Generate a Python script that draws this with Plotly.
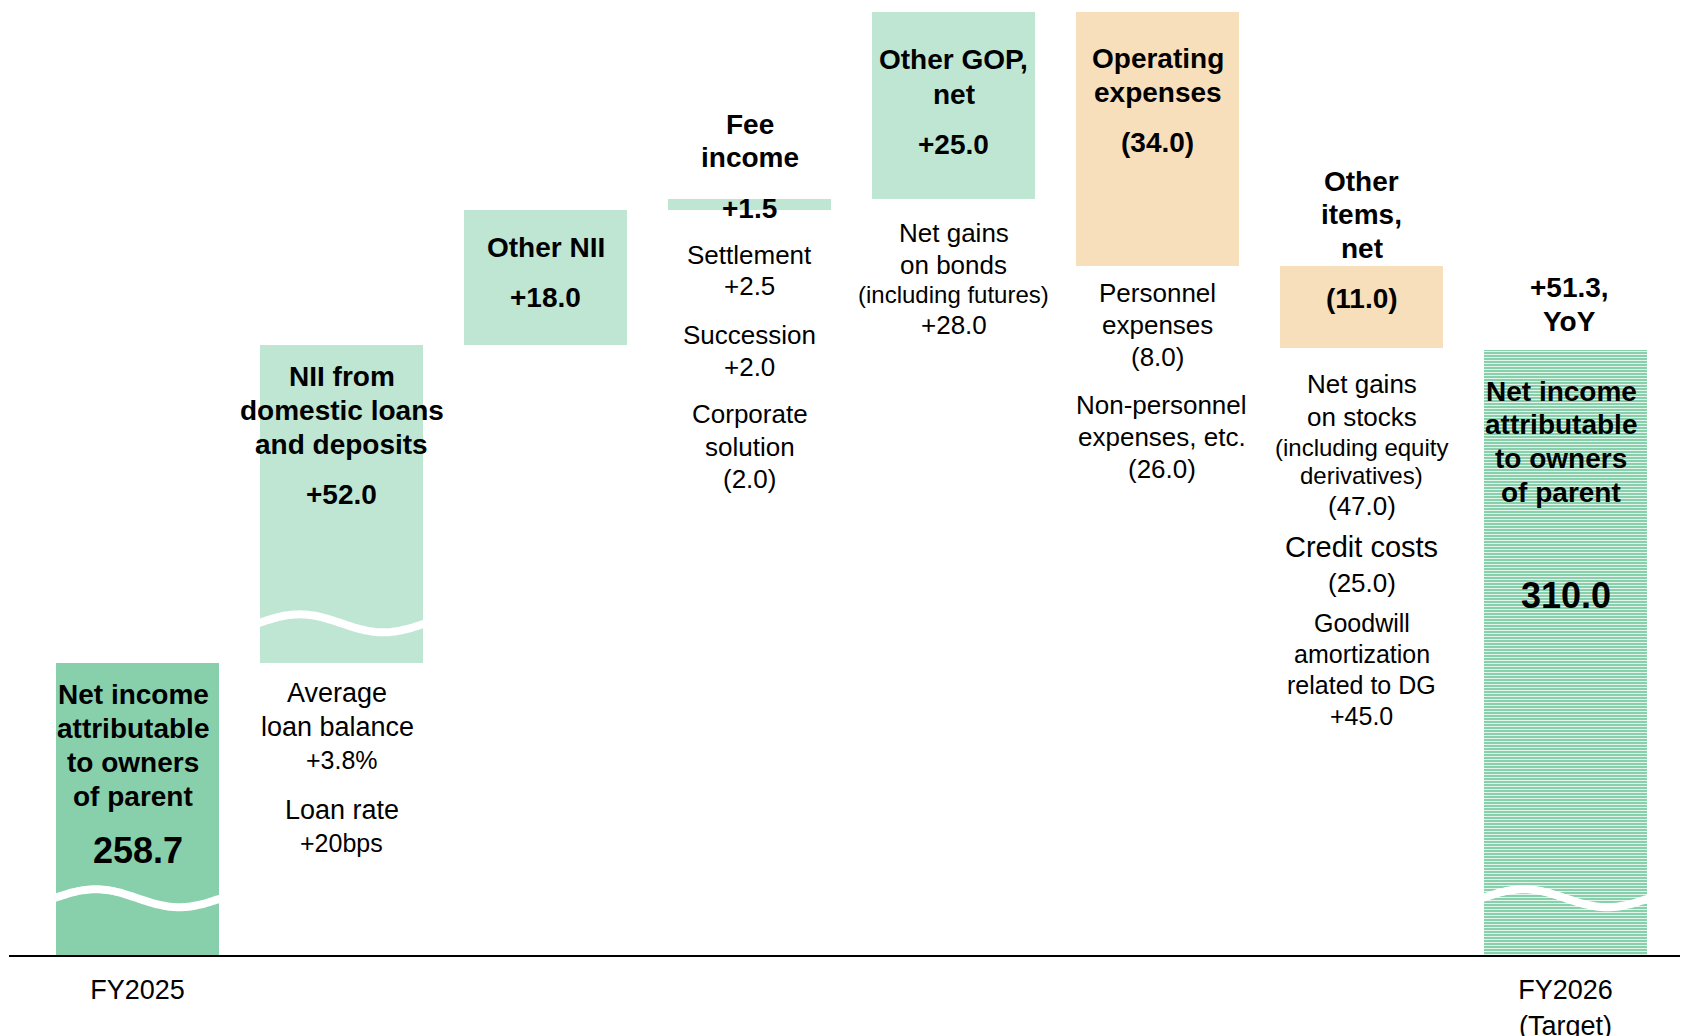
import math
import plotly.graph_objects as go

# ---------------- data ----------------
categories = ["FY2025", "NII from domestic loans and deposits", "Other NII", "Fee income",
              "Other GOP, net", "Operating expenses", "Other items, net", "FY2026 (Target)"]
start_value = 258.7
deltas = [52.0, 18.0, 1.5, 25.0, -34.0, -11.0]
end_value = 310.0
tick_labels = ["FY2025", "FY2026<br>(Target)"]

# ---------------- style ----------------
FONT = "Liberation Sans, Arial, sans-serif"
DARK_GREEN = "#88CFAB"
LIGHT_GREEN = "#BFE6D3"
PEACH = "#F8DFBC"
bar_colors = [DARK_GREEN, LIGHT_GREEN, LIGHT_GREEN, LIGHT_GREEN, LIGHT_GREEN, PEACH, PEACH, DARK_GREEN]

PAGE_OFFSET = 8        # default body margin of the html page
W, H = 1688 - PAGE_OFFSET, 1036 - PAGE_OFFSET
BASELINE = 955         # page y of the x axis line
PLOT_H = BASELINE - PAGE_OFFSET   # plot-area height in px (1 y unit = 1 px)
K = 7.47               # px per value unit on the broken axis
BREAKS = [(7.6, 227.2), (264.0, 273.4)]   # value ranges cut out of the axis
WAVE_BARS = {0: 0, 1: 1, 7: 0}            # bar index -> which break is shown as a wave


def to_d(v):
    removed = sum(max(0.0, min(v, b) - a) for a, b in BREAKS)
    return K * (v - removed)


# waterfall spans
spans = [(0.0, start_value)]
running = start_value
for dv in deltas:
    spans.append((min(running, running + dv), max(running, running + dv)))
    running += dv
spans.append((0.0, end_value))

xs = list(range(len(categories)))
bases = [to_d(lo) for lo, hi in spans]
heights = [to_d(hi) - to_d(lo) for lo, hi in spans]

fig = go.Figure()
# solid bars (all but the target bar)
fig.add_trace(go.Bar(
    x=xs[:-1], y=heights[:-1], base=bases[:-1], width=0.8,
    marker=dict(color=bar_colors[:-1], line=dict(width=0)),
    hoverinfo="skip", showlegend=False,
))
# target bar with a white dash texture
fig.add_trace(go.Bar(
    x=xs[-1:], y=heights[-1:], base=bases[-1:], width=0.8,
    marker=dict(color=bar_colors[-1], line=dict(width=0),
                pattern=dict(shape="-", fgcolor="white", fgopacity=0.85,
                             size=3, solidity=0.3, fillmode="overlay")),
    hoverinfo="skip", showlegend=False,
))

# wavy break marks
for i, bj in WAVE_BARS.items():
    yc = to_d(BREAKS[bj][0])
    n = 60
    wx, wy = [], []
    for k in range(n + 1):
        t = k / n
        wx.append(i - 0.41 + 0.82 * t)
        wy.append(yc + 9 * math.sin(2 * math.pi * t))
    fig.add_trace(go.Scatter(x=wx, y=wy, mode="lines",
                             line=dict(color="white", width=8, shape="spline"),
                             hoverinfo="skip", showlegend=False))

annotations = []


def block(i, y_first, lines, size, bold=False, spacing=34, dx=0.0):
    # y_first: page y (px from top) of the first line's centre
    for j, line in enumerate(lines):
        txt = f"<b>{line}</b>" if bold else line
        annotations.append(dict(
            x=i + dx, y=BASELINE - (y_first + j * spacing), xref="x", yref="y",
            text=txt, showarrow=False, xanchor="center", yanchor="middle",
            font=dict(family=FONT, size=size, color="black")))


# bar 0
block(0, 694, ["Net income", "attributable", "to owners", "of parent"], 28, True, 34, dx=-0.02)
block(0, 850, ["258.7"], 36, True)
# bar 1
block(1, 376, ["NII from", "domestic loans", "and deposits"], 28, True, 34)
block(1, 494, ["+52.0"], 28, True)
block(1, 693, ["Average", "loan balance"], 27, False, 34, dx=-0.02)
block(1, 760, ["+3.8%"], 25)
block(1, 810, ["Loan rate"], 27)
block(1, 843, ["+20bps"], 25)
# bar 2
block(2, 247, ["Other NII"], 28, True)
block(2, 297, ["+18.0"], 28, True)
# bar 3
block(3, 124, ["Fee", "income"], 28, True, 33)
block(3, 208, ["+1.5"], 28, True)
block(3, 255, ["Settlement", "+2.5"], 26, False, 31)
block(3, 335, ["Succession", "+2.0"], 26, False, 32)
block(3, 414, ["Corporate", "solution", "(2.0)"], 26, False, 32.5)
# bar 4
block(4, 59, ["Other GOP,", "net"], 28, True, 35)
block(4, 144, ["+25.0"], 28, True)
block(4, 233, ["Net gains", "on bonds"], 26, False, 32)
block(4, 294, ["(including futures)"], 24)
block(4, 325, ["+28.0"], 26)
# bar 5
block(5, 58, ["Operating", "expenses"], 28, True, 34)
block(5, 142, ["(34.0)"], 28, True)
block(5, 293, ["Personnel", "expenses", "(8.0)"], 26, False, 32)
block(5, 405, ["Non-personnel", "expenses, etc.", "(26.0)"], 26, False, 32, dx=0.02)
# bar 6
block(6, 181, ["Other", "items,", "net"], 28, True, 33.5)
block(6, 298, ["(11.0)"], 28, True)
block(6, 384, ["Net gains", "on stocks"], 26, False, 33)
block(6, 447, ["(including equity", "derivatives)"], 24, False, 28)
block(6, 506, ["(47.0)"], 26)
block(6, 547, ["Credit costs"], 29)
block(6, 583, ["(25.0)"], 26)
block(6, 623, ["Goodwill", "amortization", "related to DG", "+45.0"], 25, False, 31)
# bar 7
block(7, 287, ["+51.3,", "YoY"], 28, True, 34, dx=0.02)
block(7, 391, ["Net income", "attributable", "to owners", "of parent"], 28, True, 33.7, dx=-0.02)
block(7, 595, ["310.0"], 36, True)

x_lo = -(137.5 - 9) / 204.0
x_hi = x_lo + (1688 - 9) / 204.0

fig.update_layout(
    width=W, height=H,
    margin=dict(l=9 - PAGE_OFFSET, r=0, t=0, b=H - PLOT_H, autoexpand=False),
    paper_bgcolor="white", plot_bgcolor="white",
    barmode="overlay", bargap=0,
    annotations=annotations,
    font=dict(family=FONT, color="black"),
    xaxis=dict(range=[x_lo, x_hi], showgrid=False, zeroline=False, automargin=False,
               showline=True, linecolor="black", linewidth=2,
               ticks="", tickvals=[0, len(categories) - 1], ticktext=tick_labels,
               tickfont=dict(family=FONT, size=27, color="black"),
               ticklabelstandoff=10, fixedrange=True),
    yaxis=dict(range=[0, PLOT_H], visible=False, showgrid=False, zeroline=False,
               automargin=False, fixedrange=True),
)

fig.write_html("out.html", config={"displayModeBar": False})
